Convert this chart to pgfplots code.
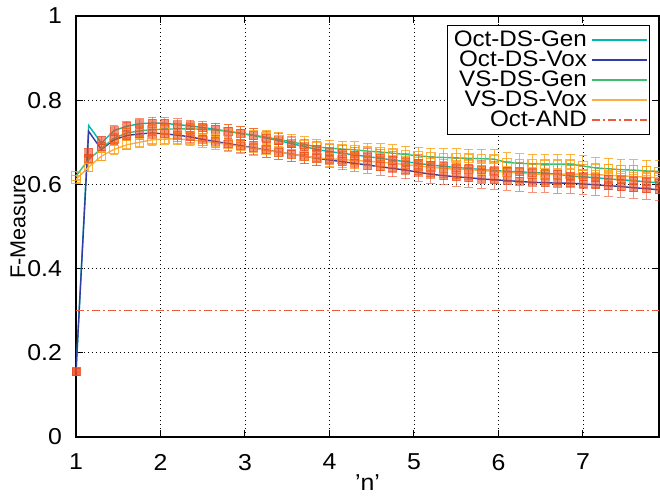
\documentclass[border=0pt]{standalone}
\usepackage{pgfplots}
\pgfplotsset{compat=1.18}
\usepackage{pgfplotstable}
\usepackage{fontspec}
\setmainfont[FakeStretch=1.08]{Liberation Sans}
\newfontfamily\plainsans{Liberation Sans}
\definecolor{ctealc}{RGB}{0,185,175}
\definecolor{cblue}{RGB}{50,60,165}
\definecolor{cgreen}{RGB}{60,190,110}
\definecolor{corange}{RGB}{250,175,70}
\definecolor{cand}{RGB}{235,90,60}
\definecolor{cred}{RGB}{235,75,35}
\definecolor{cmark}{RGB}{250,160,20}
\pgfplotstableread{
n    tg    tv    vg    vv    e      mg    mv
1.00 0.155 0.155 0.620 0.612 0.008 0.155 0.155
1.15 0.740 0.726 0.659 0.641 0.010 0.675 0.662
1.30 0.698 0.683 0.685 0.667 0.010 0.704 0.690
1.45 0.728 0.706 0.710 0.683 0.011 0.728 0.706
1.60 0.738 0.716 0.722 0.694 0.012 0.738 0.716
1.75 0.744 0.720 0.727 0.700 0.012 0.744 0.720
1.90 0.746 0.722 0.730 0.706 0.013 0.746 0.722
2.05 0.745 0.720 0.731 0.708 0.013 0.745 0.720
2.20 0.742 0.717 0.732 0.708 0.014 0.742 0.717
2.35 0.739 0.713 0.732 0.706 0.014 0.739 0.713
2.50 0.735 0.707 0.731 0.703 0.015 0.735 0.707
2.65 0.731 0.702 0.729 0.699 0.015 0.731 0.702
2.80 0.726 0.697 0.726 0.695 0.016 0.726 0.697
2.95 0.721 0.692 0.721 0.690 0.016 0.721 0.692
3.10 0.716 0.687 0.717 0.686 0.016 0.716 0.687
3.25 0.710 0.682 0.712 0.681 0.017 0.710 0.682
3.40 0.704 0.677 0.707 0.677 0.017 0.704 0.677
3.55 0.697 0.672 0.701 0.672 0.017 0.697 0.672
3.70 0.690 0.667 0.695 0.667 0.018 0.690 0.667
3.85 0.683 0.662 0.689 0.663 0.018 0.683 0.662
4.00 0.678 0.658 0.686 0.661 0.018 0.678 0.658
4.15 0.674 0.654 0.684 0.659 0.019 0.674 0.654
4.30 0.670 0.650 0.682 0.657 0.019 0.670 0.650
4.45 0.666 0.646 0.679 0.655 0.019 0.666 0.646
4.60 0.662 0.642 0.677 0.653 0.020 0.662 0.642
4.75 0.658 0.638 0.674 0.650 0.020 0.658 0.638
4.90 0.654 0.634 0.671 0.647 0.020 0.654 0.634
5.05 0.650 0.629 0.668 0.644 0.021 0.650 0.629
5.20 0.646 0.624 0.665 0.641 0.021 0.646 0.624
5.35 0.643 0.621 0.664 0.638 0.021 0.643 0.621
5.50 0.640 0.618 0.663 0.636 0.022 0.640 0.618
5.65 0.638 0.616 0.662 0.635 0.022 0.638 0.616
5.80 0.635 0.613 0.661 0.633 0.022 0.635 0.613
5.95 0.633 0.611 0.660 0.631 0.022 0.633 0.611
6.10 0.631 0.609 0.652 0.629 0.023 0.631 0.609
6.25 0.630 0.607 0.650 0.627 0.023 0.630 0.607
6.40 0.628 0.605 0.649 0.625 0.023 0.628 0.605
6.55 0.627 0.604 0.648 0.623 0.023 0.627 0.604
6.70 0.624 0.603 0.648 0.624 0.024 0.624 0.603
6.85 0.620 0.603 0.648 0.625 0.024 0.620 0.603
7.00 0.618 0.601 0.644 0.624 0.024 0.618 0.601
7.15 0.616 0.599 0.639 0.623 0.024 0.616 0.599
7.30 0.613 0.597 0.637 0.622 0.025 0.613 0.597
7.45 0.611 0.595 0.635 0.620 0.025 0.611 0.595
7.60 0.609 0.592 0.634 0.619 0.025 0.609 0.592
7.75 0.606 0.590 0.632 0.617 0.025 0.606 0.590
7.90 0.604 0.587 0.631 0.616 0.025 0.604 0.587
}\data
\begin{document}
\fontsize{11.5}{12}\selectfont
\begin{tikzpicture}
\begin{axis}[
  scale only axis,
  width=291.5pt, height=210.5pt,
  xmin=1, xmax=7.9, ymin=0, ymax=1,
  xtick={1,2,3,4,5,6,7},
  ytick={0,0.2,0.4,0.6,0.8,1},
  /pgf/number format/assume math mode=true,
  tick align=inside,
  major tick length=3.5pt,
  tick style={black, line width=0.5pt},
  axis line style={black, line width=0.6pt},
  grid=major,
  major grid style={black, line width=0.4pt, dash pattern=on 0.5pt off 1.5pt},
  yticklabel style={xshift=-3pt},
  xticklabel style={yshift=-4.5pt},
  xlabel={'n'},
  ylabel={\plainsans\fontsize{10.8}{12}\selectfont F-Measure},
  xlabel style={at={(axis description cs:0.5,0)}, anchor=center, yshift=-23pt},
  ylabel style={at={(axis description cs:-0.0995,0.5)}, anchor=center},
  legend style={at={(0.985,0.979)}, anchor=north east, draw=black, line width=0.6pt,
    inner xsep=1pt, inner ysep=0.5pt, row sep=-3.5pt, font=\fontsize{11.2}{12}\selectfont, cells={anchor=east}},
  legend plot pos=right,
  legend image code/.code={\draw[#1, line width=0.9pt] (0pt,0pt) -- (27.5pt,0pt);},
]
% error bar markers (not in legend)
\addplot[forget plot, only marks, draw=cmark, mark=square, mark size=2.1pt, mark options={line width=0.6pt, opacity=0.8},
  error bars/.cd, y dir=both, y explicit,
  error bar style={cmark, line width=0.5pt, opacity=0.8},
  error mark options={rotate=90, mark size=2.2pt, cmark, opacity=0.8}]
  table[x=n, y=vg, y error=e] {\data};
\addplot[forget plot, only marks, draw=cmark, mark=square, mark size=2.1pt, mark options={line width=0.6pt, opacity=0.8},
  error bars/.cd, y dir=both, y explicit,
  error bar style={cmark, line width=0.5pt, opacity=0.8},
  error mark options={rotate=90, mark size=2.2pt, cmark, opacity=0.8}]
  table[x=n, y=vv, y error=e] {\data};
\addplot[forget plot, only marks, cred, mark=square*, mark size=2pt, mark options={fill=cred, draw=cred, opacity=0.6},
  error bars/.cd, y dir=both, y explicit,
  error bar style={cred, line width=0.5pt, opacity=0.6},
  error mark options={rotate=90, mark size=2.2pt, cred, opacity=0.6}]
  table[x=n, y=mg, y error=e] {\data};
\addplot[forget plot, only marks, cred, mark=square*, mark size=2pt, mark options={fill=cred, draw=cred, opacity=0.6},
  error bars/.cd, y dir=both, y explicit,
  error bar style={cred, line width=0.5pt, opacity=0.6},
  error mark options={rotate=90, mark size=2.2pt, cred, opacity=0.6}]
  table[x=n, y=mv, y error=e] {\data};
% lines
\addplot[ctealc, line width=0.7pt, no marks] table[x=n, y=tg] {\data};
\addlegendentry{Oct-DS-Gen}
\addplot[cblue, line width=0.7pt, no marks] table[x=n, y=tv] {\data};
\addlegendentry{Oct-DS-Vox}
\addplot[cgreen, line width=0.7pt, no marks] table[x=n, y=vg] {\data};
\addlegendentry{VS-DS-Gen}
\addplot[corange, line width=0.7pt, no marks] table[x=n, y=vv] {\data};
\addlegendentry{VS-DS-Vox}
\addplot[cand, line width=0.5pt, no marks, dash pattern=on 4pt off 1.5pt on 1pt off 1.5pt] coordinates {(1,0.3) (7.9,0.3)};
\addlegendentry{Oct-AND}
\end{axis}
\pgfresetboundingbox
\path[use as bounding box] ([xshift=-38pt, yshift=-30pt]current axis.south west) rectangle ([xshift=0.5pt, yshift=8pt]current axis.north east);
\end{tikzpicture}
\end{document}
